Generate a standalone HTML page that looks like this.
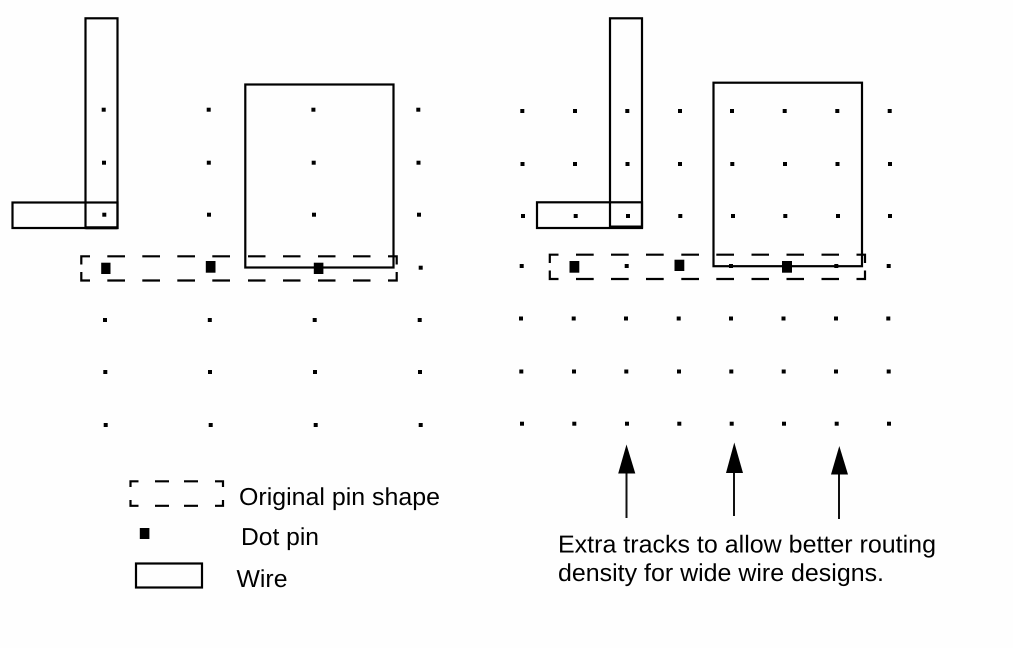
<!DOCTYPE html>
<html>
<head>
<meta charset="utf-8">
<style>
html,body{margin:0;padding:0;background:#fefefe;width:1013px;height:648px;overflow:hidden}
svg{display:block}
text{font-family:"Liberation Sans",Arial,sans-serif;font-size:24.5px;fill:#000;text-rendering:geometricPrecision}
.w{fill:none;stroke:#000;stroke-width:2.2}
.d{fill:none;stroke:#000;stroke-width:2.2}
.a{stroke:#111;stroke-width:2;fill:none}
</style>
</head>
<body>
<svg width="1013" height="648" viewBox="0 0 1013 648" xmlns="http://www.w3.org/2000/svg">
<rect width="1013" height="648" fill="#fefefe"/>

<!-- left wires -->
<rect class="w" x="85.5" y="18.3" width="32" height="209.7"/>
<rect class="w" x="12.5" y="202.5" width="105" height="25.5"/>
<rect class="w" x="245.3" y="84.5" width="148.2" height="183"/>
<path d="M85.5 227.8H117.5" stroke="#000" stroke-width="3"/>

<!-- right wires -->
<rect class="w" x="610" y="18.3" width="32" height="208.7"/>
<rect class="w" x="537" y="202.3" width="105" height="25.7"/>
<rect class="w" x="713.5" y="82.7" width="148.5" height="183.5"/>
<path d="M610 227H642" stroke="#000" stroke-width="3"/>

<!-- left dashed pin -->
<path class="d" d="M90 256.3H81.3V264.5M81.3 272V280.5H90M107.3 256.3H125M142.3 256.3H160M177.3 256.3H195M212.3 256.3H230M248 256.3H265.5M283 256.3H300.5M318 256.3H335.5M353 256.3H370.5M388 256.3H396.7V264.5M396.7 272V280.5H388M107.3 280.5H125M142.3 280.5H160M177.3 280.5H195M212.3 280.5H230M248 280.5H265.5M283 280.5H300.5M318 280.5H335.5M353 280.5H370.5"/>

<!-- right dashed pin -->
<path class="d" d="M558.5 254.7H549.8V263M549.8 270.5V279H558.5M576 254.7H593.7M611 254.7H628.7M646 254.7H663.7M681.3 254.7H699M716.3 254.7H734M751.5 254.7H769M786.5 254.7H804M821.5 254.7H839M856.5 254.7H865V263M865 270.5V279H856.5M576 279H593.7M611 279H628.7M646 279H663.7M681.3 279H699M716.3 279H734M751.5 279H769M786.5 279H804M821.5 279H839"/>

<!-- left dots -->
<g fill="#000">
<rect x="101.7" y="107.7" width="4" height="4"/><rect x="206.7" y="107.7" width="4" height="4"/><rect x="311.4" y="107.7" width="4" height="4"/><rect x="416.3" y="107.7" width="4" height="4"/>
<rect x="102" y="160.7" width="4" height="4"/><rect x="206.8" y="160.7" width="4" height="4"/><rect x="311.7" y="160.7" width="4" height="4"/><rect x="416.5" y="160.7" width="4" height="4"/>
<rect x="102.3" y="212.7" width="4" height="4"/><rect x="207" y="212.7" width="4" height="4"/><rect x="312" y="212.7" width="4" height="4"/><rect x="417" y="212.7" width="4" height="4"/>
<rect x="418.7" y="265.7" width="4" height="4"/>
<rect x="103" y="318" width="4" height="4"/><rect x="207.8" y="318" width="4" height="4"/><rect x="312.7" y="318" width="4" height="4"/><rect x="417.7" y="318" width="4" height="4"/>
<rect x="103.3" y="370" width="4" height="4"/><rect x="208" y="370" width="4" height="4"/><rect x="313" y="370" width="4" height="4"/><rect x="418" y="370" width="4" height="4"/>
<rect x="103.7" y="423" width="4" height="4"/><rect x="208.7" y="423" width="4" height="4"/><rect x="313.7" y="423" width="4" height="4"/><rect x="418.7" y="423" width="4" height="4"/>
</g>

<!-- right dots -->
<g fill="#000">
<rect x="520.3" y="109" width="4" height="4"/><rect x="573" y="109" width="4" height="4"/><rect x="625.3" y="109" width="4" height="4"/><rect x="678" y="109" width="4" height="4"/><rect x="730" y="109" width="4" height="4"/><rect x="782.7" y="109" width="4" height="4"/><rect x="835.3" y="109" width="4" height="4"/><rect x="887.7" y="109" width="4" height="4"/>
<rect x="520.5" y="162" width="4" height="4"/><rect x="573" y="162" width="4" height="4"/><rect x="625.5" y="162" width="4" height="4"/><rect x="678" y="162" width="4" height="4"/><rect x="730.3" y="162" width="4" height="4"/><rect x="783" y="162" width="4" height="4"/><rect x="835.5" y="162" width="4" height="4"/><rect x="888" y="162" width="4" height="4"/>
<rect x="521" y="214" width="4" height="4"/><rect x="573.7" y="214" width="4" height="4"/><rect x="626" y="214" width="4" height="4"/><rect x="678.3" y="214" width="4" height="4"/><rect x="731" y="214" width="4" height="4"/><rect x="783.3" y="214" width="4" height="4"/><rect x="836" y="214" width="4" height="4"/><rect x="888" y="214" width="4" height="4"/>
<rect x="519.7" y="264" width="4" height="4"/><rect x="624.7" y="264" width="4" height="4"/><rect x="729" y="264" width="4" height="4"/><rect x="834.3" y="264" width="4" height="4"/><rect x="886.7" y="264" width="4" height="4"/>
<rect x="519" y="316.5" width="4" height="4"/><rect x="571.7" y="316.5" width="4" height="4"/><rect x="624" y="316.5" width="4" height="4"/><rect x="676.7" y="316.5" width="4" height="4"/><rect x="729" y="316.5" width="4" height="4"/><rect x="781.5" y="316.5" width="4" height="4"/><rect x="834" y="316.5" width="4" height="4"/><rect x="886.3" y="316.5" width="4" height="4"/>
<rect x="519.3" y="369.5" width="4" height="4"/><rect x="572" y="369.5" width="4" height="4"/><rect x="624.3" y="369.5" width="4" height="4"/><rect x="677" y="369.5" width="4" height="4"/><rect x="729.3" y="369.5" width="4" height="4"/><rect x="781.7" y="369.5" width="4" height="4"/><rect x="834" y="369.5" width="4" height="4"/><rect x="886.7" y="369.5" width="4" height="4"/>
<rect x="520" y="421.7" width="4" height="4"/><rect x="572.3" y="421.7" width="4" height="4"/><rect x="625" y="421.7" width="4" height="4"/><rect x="677.3" y="421.7" width="4" height="4"/><rect x="729.7" y="421.7" width="4" height="4"/><rect x="782" y="421.7" width="4" height="4"/><rect x="834.7" y="421.7" width="4" height="4"/><rect x="887" y="421.7" width="4" height="4"/>
</g>

<!-- dot pins -->
<g fill="#000">
<rect x="101.2" y="262.7" width="9.3" height="11.3"/>
<rect x="205.8" y="261" width="9.7" height="11.7"/>
<rect x="313.8" y="262.7" width="9.6" height="11.3"/>
<rect x="569.5" y="261" width="9.8" height="11.7"/>
<rect x="674.5" y="259.7" width="9.8" height="11.3"/>
<rect x="782" y="261" width="10" height="11.7"/>
</g>

<!-- arrows -->
<path class="a" d="M626.5 472V518"/>
<path d="M626.5 444.5L635.3 473.5H618.2Z" fill="#000"/>
<path class="a" d="M734 472V516"/>
<path d="M734.3 442.5L743 473H726Z" fill="#000"/>
<path class="a" d="M839 473V519"/>
<path d="M839.3 446L848 474.5H831Z" fill="#000"/>

<!-- legend -->
<path class="d" d="M138.5 481.3H130.5V487M130.5 500V505.8H138.5M155 481.3H169M184 481.3H198M155 505.8H169M184 505.8H198M215 481.3H223V487M223 500V505.8H215"/>
<rect x="139.8" y="528" width="9.6" height="11" fill="#000"/>
<rect class="w" x="136" y="563.5" width="66" height="24"/>

<text x="239" y="505" textLength="201" lengthAdjust="spacingAndGlyphs">Original pin shape</text>
<text x="241" y="545" textLength="78" lengthAdjust="spacingAndGlyphs">Dot pin</text>
<text x="236.5" y="587" textLength="51" lengthAdjust="spacingAndGlyphs">Wire</text>
<text x="558" y="552.5" textLength="378" lengthAdjust="spacingAndGlyphs">Extra tracks to allow better routing</text>
<text x="558" y="581" textLength="326" lengthAdjust="spacingAndGlyphs">density for wide wire designs.</text>
</svg>
</body>
</html>
